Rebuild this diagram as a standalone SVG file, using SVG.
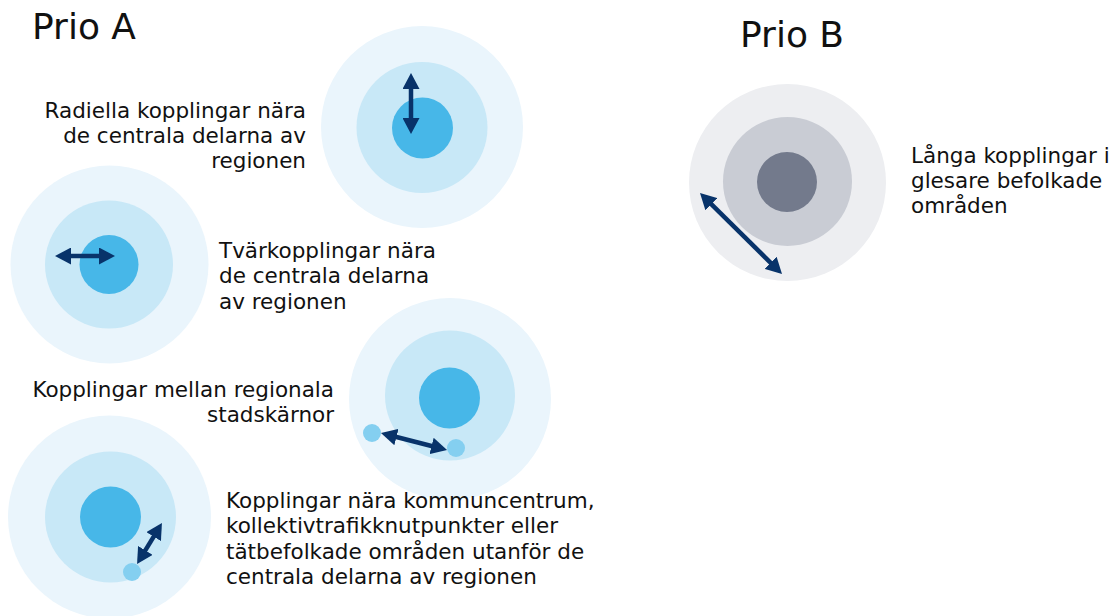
<svg xmlns="http://www.w3.org/2000/svg" width="1112" height="616" viewBox="0 0 1112 616">
<style>
.o{fill:#EAF5FC}.m{fill:#C8E8F7}.i{fill:#47B7E8}.s{fill:#84CFF0}
.go{fill:#EDEEF1}.gm{fill:#C9CCD4}.gi{fill:#737A8C}
.t{font-family:"DejaVu Sans",Verdana,sans-serif;font-size:21.5px;fill:#111}
.h{font-family:"DejaVu Sans",Verdana,sans-serif;font-size:36px;fill:#111}
.a{stroke:#08336A;stroke-width:4.5;fill:none;marker-start:url(#ah);marker-end:url(#ah)}
</style>
<defs>
<marker id="ah" markerUnits="userSpaceOnUse" markerWidth="16" markerHeight="17" refX="8" refY="8.5" orient="auto-start-reverse" viewBox="0 0 16 17">
<path d="M0,0 L16,8.5 L0,17 z" fill="#08336A"/>
</marker>
</defs>
<rect width="1112" height="616" fill="#fff"/>
<text class="h" x="32" y="39">Prio A</text>
<text class="h" x="740" y="47">Prio B</text>
<g id="node-radiella">
<circle class="o" cx="422" cy="127" r="101"/>
<circle class="m" cx="422" cy="127.5" r="65.5"/>
<circle class="i" cx="422.5" cy="128" r="30.5"/>
<text class="t" text-anchor="end"><tspan x="306" y="118">Radiella kopplingar nära</tspan><tspan x="306" y="143">de centrala delarna av</tspan><tspan x="306" y="168">regionen</tspan></text>
</g>
<g id="node-tvar">
<circle class="o" cx="109.5" cy="264.5" r="99"/>
<circle class="m" cx="109" cy="264.5" r="64"/>
<circle class="i" cx="109" cy="264.5" r="29.5"/>
<text class="t"><tspan x="219" y="258">Tvärkopplingar nära</tspan><tspan x="219" y="283">de centrala delarna</tspan><tspan x="219" y="309">av regionen</tspan></text>
</g>
<g id="node-stadskarnor">
<circle class="o" cx="450" cy="399" r="101"/>
<circle class="m" cx="450" cy="395.5" r="65"/>
<circle class="i" cx="449.5" cy="398" r="30.5"/>
<circle class="s" cx="372" cy="433" r="9"/>
<circle class="s" cx="456" cy="448" r="9"/>
<text class="t" text-anchor="end"><tspan x="334" y="397">Kopplingar mellan regionala</tspan><tspan x="334" y="422">stadskärnor</tspan></text>
</g>
<g id="node-kommuncentrum">
<circle class="o" cx="109.5" cy="517" r="101.5"/>
<circle class="m" cx="110.5" cy="517" r="65.5"/>
<circle class="i" cx="110.5" cy="517" r="30.5"/>
<circle class="s" cx="132" cy="572" r="9"/>
<text class="t"><tspan x="226" y="508">Kopplingar nära kommuncentrum,</tspan><tspan x="226" y="533">kollektivtrafikknutpunkter eller</tspan><tspan x="226" y="559">tätbefolkade områden utanför de</tspan><tspan x="226" y="584">centrala delarna av regionen</tspan></text>
</g>
<g id="node-prio-b">
<circle class="go" cx="787.5" cy="182.5" r="98.5"/>
<circle class="gm" cx="787.5" cy="181.5" r="64.5"/>
<circle class="gi" cx="787" cy="182" r="30"/>
<text class="t"><tspan x="911" y="163">Långa kopplingar i</tspan><tspan x="911" y="188">glesare befolkade</tspan><tspan x="911" y="213">områden</tspan></text>
</g>
<g id="connectors">
<line class="a" x1="411" y1="81" x2="411" y2="126"/>
<line class="a" x1="63" y1="256" x2="107" y2="256"/>
<line class="a" x1="388.7" y1="435" x2="439.3" y2="448"/>
<line class="a" x1="141.2" y1="557.2" x2="157.8" y2="529.8"/>
<line class="a" x1="705.7" y1="198.6" x2="776.3" y2="268.4"/>
</g>
</svg>
